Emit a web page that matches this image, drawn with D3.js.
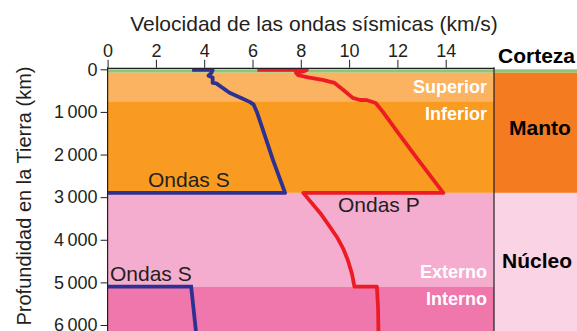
<!DOCTYPE html>
<html>
<head>
<meta charset="utf-8">
<script src="https://cdn.jsdelivr.net/npm/d3@7"></script>
<style>
  body { margin: 0; background: #fff; }
  svg { display: block; font-family: "Liberation Sans", Arial, Helvetica, sans-serif; }
  .tick text { font-size: 18px; fill: #231f20; }
  .tick line, .domain { stroke: #231f20; }
</style>
</head>
<body>
<div id="chart"></div>
<script>
const width = 577;
const height = 331;

// ticks
const xTicks = [0, 2, 4, 6, 8, 10, 12, 14];
const yTicks = [0, 1000, 2000, 3000, 4000, 5000, 6000];

// layers (depth in km)
const layerNames = ["Corteza", "Superior", "Inferior", "Externo", "Interno"];
const layerTop = [0, 80, 750, 2900, 5100];
const layerBottom = [80, 750, 2900, 5100, 6371];
const layerColors = ["#8dc67b", "#fbb261", "#f89b20", "#f5adcf", "#f077ac"];

// right-hand column
const zoneNames = ["Corteza", "Manto", "Núcleo"];
const zoneTop = [0, 80, 2900];
const zoneBottom = [80, 2900, 6371];
const zoneColors = ["#8dc67b", "#f47b20", "#fad3e5"];

// S waves: mantle part and inner core part (velocity km/s, depth km)
const sMantleV = [3.5, 4.35, 4.3, 4.18, 4.35, 4.35, 4.5, 5.05, 5.6, 5.9, 6.05, 6.18, 6.3, 6.45, 6.85, 7.35, 0];
const sMantleD = [15, 15, 80, 150, 190, 320, 330, 550, 690, 770, 830, 1000, 1200, 1450, 2130, 2900, 2900];
const sInnerV = [0, 3.46, 3.7];
const sInnerD = [5100, 5100, 6371];

// P waves
const pV = [6.2, 8.25, 8.1, 7.8, 7.9, 8.3, 8.9, 9.4, 9.75, 10.15, 10.45, 10.75, 11.1, 11.4, 12.0, 12.8, 13.9,
            8.1, 8.8, 9.15, 9.5, 9.75, 9.95, 10.12, 10.22, 11.15, 11.2, 11.22];
const pD = [15, 15, 50, 85, 140, 190, 250, 320, 480, 670, 720, 725, 790, 1000, 1470, 2080, 2900,
            2900, 3370, 3650, 3940, 4200, 4480, 4800, 5100, 5100, 5600, 6371];

const x = d3.scaleLinear().domain([0, 16]).range([107.6, 494]);
const y = d3.scaleLinear().domain([0, 6000]).range([69.3, 325]);

const svg = d3.select("#chart").append("svg")
  .attr("width", width)
  .attr("height", height);

// background layers
svg.selectAll("rect.layer").data(layerNames).enter().append("rect")
  .attr("class", "layer")
  .attr("x", x(0))
  .attr("width", x(16) - x(0))
  .attr("y", (d, i) => y(layerTop[i]))
  .attr("height", (d, i) => y(layerBottom[i]) - y(layerTop[i]))
  .attr("fill", (d, i) => layerColors[i]);

svg.selectAll("rect.zone").data(zoneNames).enter().append("rect")
  .attr("class", "zone")
  .attr("x", x(16))
  .attr("width", width - x(16))
  .attr("y", (d, i) => y(zoneTop[i]))
  .attr("height", (d, i) => y(zoneBottom[i]) - y(zoneTop[i]))
  .attr("fill", (d, i) => zoneColors[i]);

// wave lines
const line = d3.line().x(d => x(d[0])).y(d => y(d[1]));
const toPts = (v, dd) => v.map((e, i) => [e, dd[i]]);

svg.append("path").datum(toPts(sMantleV, sMantleD))
  .attr("d", line).attr("fill", "none")
  .attr("stroke", "#2e3192").attr("stroke-width", 3.8).attr("stroke-linejoin", "round");
svg.append("path").datum(toPts(sInnerV, sInnerD))
  .attr("d", line).attr("fill", "none")
  .attr("stroke", "#2e3192").attr("stroke-width", 3.8);
svg.append("path").datum(toPts(pV, pD))
  .attr("d", line).attr("fill", "none")
  .attr("stroke", "#ed1c24").attr("stroke-width", 3.8).attr("stroke-linejoin", "round");

// axes
svg.append("g")
  .attr("transform", `translate(0,${y(0) - 1.5})`)
  .call(d3.axisTop(x).tickValues(xTicks).tickSize(8).tickSizeOuter(0).tickPadding(3))
  .call(g => g.select(".domain").attr("stroke-width", 1.2));

svg.append("g")
  .attr("transform", `translate(${x(0)},0)`)
  .call(d3.axisLeft(y).tickValues(yTicks).tickSize(7).tickPadding(3)
    .tickFormat(d => d >= 1000 ? Math.floor(d / 1000) + "\u2009" + "000" : d))
  .call(g => g.select(".domain").remove());

svg.append("line")
  .attr("x1", x(0)).attr("x2", x(0))
  .attr("y1", y(0) - 2).attr("y2", height)
  .attr("stroke", "#231f20").attr("stroke-width", 1.2);
svg.append("line")
  .attr("x1", x(16)).attr("x2", x(16))
  .attr("y1", y(0) - 2).attr("y2", height)
  .attr("stroke", "#231f20").attr("stroke-width", 1.2);

// titles
svg.append("text")
  .attr("x", 314).attr("y", 31)
  .attr("text-anchor", "middle")
  .attr("font-size", 21).attr("fill", "#231f20")
  .text("Velocidad de las ondas sísmicas (km/s)");

svg.append("text")
  .attr("transform", "translate(31,196) rotate(-90)")
  .attr("text-anchor", "middle")
  .attr("font-size", 20).attr("fill", "#231f20")
  .text("Profundidad en la Tierra (km)");

// layer labels (white)
const inner = [
  ["Superior", 93], ["Inferior", 120], ["Externo", 278], ["Interno", 305]
];
svg.selectAll("text.inner").data(inner).enter().append("text")
  .attr("class", "inner")
  .attr("x", 487).attr("y", d => d[1])
  .attr("text-anchor", "end")
  .attr("font-size", 18).attr("font-weight", "bold").attr("fill", "#fff")
  .text(d => d[0]);

// right column labels
svg.append("text").attr("x", 498).attr("y", 63)
  .attr("font-size", 21).attr("font-weight", "bold").attr("fill", "#000")
  .text(zoneNames[0]);
svg.append("text").attr("x", 540).attr("y", 135).attr("text-anchor", "middle")
  .attr("font-size", 21).attr("font-weight", "bold").attr("fill", "#000")
  .text(zoneNames[1]);
svg.append("text").attr("x", 537).attr("y", 268).attr("text-anchor", "middle")
  .attr("font-size", 21).attr("font-weight", "bold").attr("fill", "#000")
  .text(zoneNames[2]);

// wave labels
const waveLabels = [["Ondas S", 148, 187], ["Ondas P", 338, 212], ["Ondas S", 110, 281]];
svg.selectAll("text.wave").data(waveLabels).enter().append("text")
  .attr("class", "wave")
  .attr("x", d => d[1]).attr("y", d => d[2])
  .attr("font-size", 21).attr("fill", "#231f20")
  .text(d => d[0]);
</script>
</body>
</html>
